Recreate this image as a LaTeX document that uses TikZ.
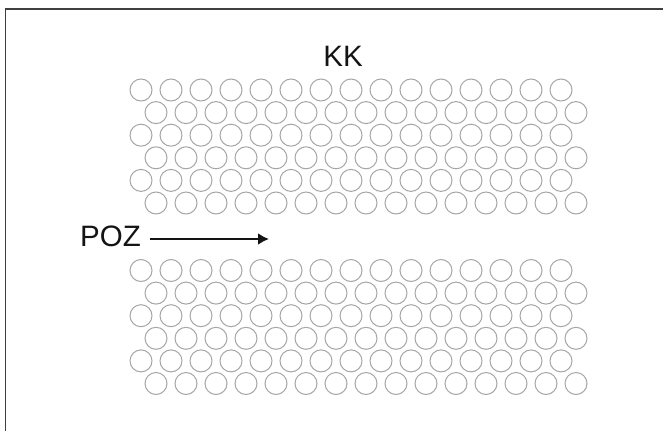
\documentclass[tikz,border=0pt]{standalone}
\usepackage{fontspec}
\setmainfont{Liberation Sans}
\usetikzlibrary{arrows.meta}
\begin{document}
\begin{tikzpicture}[x=1pt,y=-1pt,
  cell/.style={draw=black!35,line width=1pt},
  label/.style={font=\fontsize{29.5}{29.5}\selectfont,text=black!92,inner sep=0pt,anchor=base},
  frameline/.style={draw=black!75,line width=1.6pt}]
\useasboundingbox (0,0) rectangle (663,431);
\fill[white] (0,0) rectangle (663,431);
\draw[frameline] (5.6,431) -- (5.6,8.8) -- (663,8.8);
% circle blocks
\foreach \ystart in {90,270.5}{
  \foreach \r in {0,...,5}{
    \pgfmathsetmacro{\yy}{\ystart+22.6*\r}
    \pgfmathsetmacro{\xs}{isodd(\r)?156:141}
    \foreach \k in {0,...,14}{
      \draw[cell] ({\xs+30*\k},\yy) circle[radius=11];
    }
  }
}
\node[label] (kk) at (343,66) {KK};
\node[label,anchor=base west] (poz) at (80,246.7) {POZ};
\coordinate (start) at (150,239);
\coordinate (tip) at (269,239);
\draw[line width=2.2pt,-{Latex[length=11pt,width=12pt]},black!92] (start) -- (tip);
\end{tikzpicture}
\end{document}
